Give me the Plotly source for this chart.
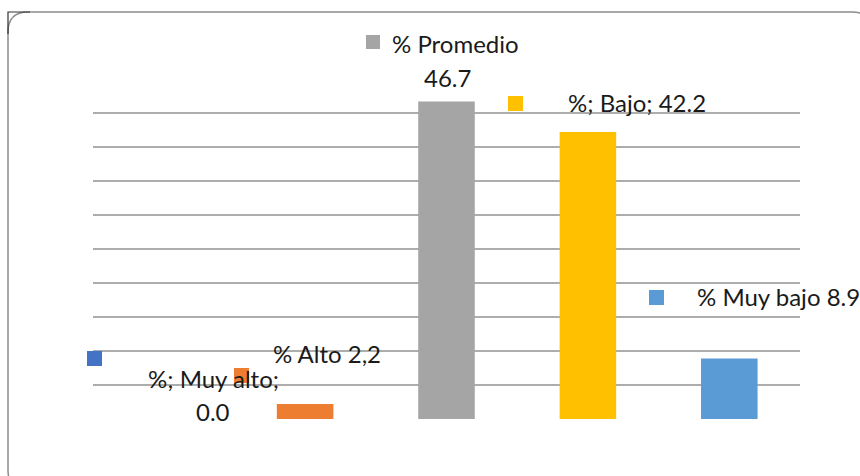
import plotly.graph_objects as go

categories = ["Muy alto", "Alto", "Promedio", "Bajo", "Muy bajo"]
values = [0.0, 2.2, 46.7, 42.2, 8.9]
bar_colors = ["#4472C4", "#ED7D31", "#A5A5A5", "#FFC000", "#5B9BD5"]
grid_vals = [0, 5, 10, 15, 20, 25, 30, 35, 40, 45]

W, H = 860, 476
FONT = "Lato"
FS = 24


def px(x):
    return x / W


def py(y):
    return 1 - y / H


fig = go.Figure()
fig.add_trace(go.Bar(
    x=categories, y=values, marker=dict(color=bar_colors, line=dict(width=0)),
    showlegend=False, hoverinfo="skip"))

shapes = []
annotations = []

# border: rounded rectangle + dark corner
r = 20
L, T, R, B = 8, 12, 872, 490
path = (f"M {px(L)} {py(T + r)} Q {px(L)} {py(T)} {px(L + r)} {py(T)} "
        f"L {px(R - r)} {py(T)} Q {px(R)} {py(T)} {px(R)} {py(T + r)} "
        f"L {px(R)} {py(B - r)} Q {px(R)} {py(B)} {px(R - r)} {py(B)} "
        f"L {px(L + r)} {py(B)} Q {px(L)} {py(B)} {px(L)} {py(B - r)} Z")
shapes.append(dict(type="path", xref="paper", yref="paper", path=path,
                   line=dict(color="#8C8C8C", width=1.5)))
shapes.append(dict(type="path", xref="paper", yref="paper",
                   path=f"M {px(L)} {py(T + 22)} L {px(L)} {py(T)} L {px(L + 22)} {py(T)}",
                   line=dict(color="#333333", width=1.2)))

# legend keys of data labels
keys = [(87, 351, 15), (234, 368, 15), (366, 35, 14), (508, 96, 15), (649, 290, 15)]
for (kx, ky, s), c in zip(keys, bar_colors):
    shapes.append(dict(type="rect", xref="paper", yref="paper",
                       x0=px(kx), x1=px(kx + s), y0=py(ky), y1=py(ky + s),
                       fillcolor=c, line=dict(width=0)))


def fmt(v):
    return f"{v:.1f}"


def ann(text, x, y, xanchor="left"):
    annotations.append(dict(text=text, x=px(x), y=py(y), xref="paper", yref="paper",
                            xanchor=xanchor, yanchor="middle", showarrow=False,
                            font=dict(family=FONT, size=FS, color="#1a1a1a")))


ann(f"%; {categories[0]};", 213, 378, "center")
ann(fmt(values[0]), 213, 411, "center")
ann(f"% {categories[1]} {fmt(values[1]).replace('.', ',')}", 271, 353)
ann(f"% {categories[2]}", 390, 43)
ann(fmt(values[2]), 447, 78, "center")
ann(f"%; {categories[3]}; {fmt(values[3])}", 566, 102)
ann(f"% {categories[4]} {fmt(values[4])}", 695, 296)

fig.update_layout(
    width=W, height=H, margin=dict(l=0, r=0, t=0, b=0),
    paper_bgcolor="white", plot_bgcolor="white",
    bargap=0.6,
    shapes=shapes, annotations=annotations,
    xaxis=dict(domain=[px(93), px(800)], showticklabels=False, showgrid=False,
               zeroline=False, showline=False, ticks=""),
    yaxis=dict(domain=[py(419), py(79)], range=[0, 50], tickvals=grid_vals,
               showticklabels=False, showgrid=True, gridcolor="#ADADAD", gridwidth=1.5,
               zeroline=False, showline=False, ticks=""),
)

fig.write_html("out.html", config={"displayModeBar": False},
               post_script="document.body.style.margin='0';document.body.style.overflow='hidden';")
